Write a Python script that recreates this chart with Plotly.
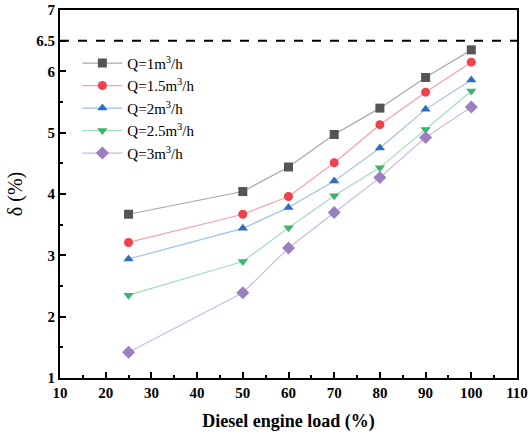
import plotly.graph_objects as go

load = [25, 50, 60, 70, 80, 90, 100]
series_names = ["Q=1m<sup>3</sup>/h", "Q=1.5m<sup>3</sup>/h", "Q=2m<sup>3</sup>/h",
                "Q=2.5m<sup>3</sup>/h", "Q=3m<sup>3</sup>/h"]
q1 = [3.67, 4.04, 4.44, 4.97, 5.40, 5.90, 6.35]
q15 = [3.21, 3.67, 3.96, 4.51, 5.13, 5.66, 6.15]
q2 = [2.94, 3.44, 3.78, 4.21, 4.75, 5.38, 5.86]
q25 = [2.35, 2.90, 3.45, 3.97, 4.43, 5.05, 5.68]
q3 = [1.42, 2.39, 3.12, 3.70, 4.27, 4.92, 5.42]
threshold = 6.5
y_ticks = [1, 2, 3, 4, 5, 6, 6.5, 7]
y_minor = [1.5, 2.5, 3.5, 4.5, 5.5]

styles = [
    ("square", "#555555", "#a8a8a8"),
    ("circle", "#f0414d", "#f7a0a6"),
    ("triangle-up", "#2a6fc4", "#9ec0e6"),
    ("triangle-down", "#3db46d", "#a6dcbc"),
    ("diamond", "#9b7fc0", "#cbbce0"),
]

fig = go.Figure()
for name, ys, (sym, mc, lc) in zip(series_names, [q1, q15, q2, q25, q3], styles):
    fig.add_trace(go.Scatter(
        x=load, y=ys, name=name, mode="lines+markers",
        line=dict(color=lc, width=1.2),
        marker=dict(symbol=sym, color=mc, size=9 if sym != "diamond" else 10),
    ))

fig.add_hline(y=threshold, line=dict(color="black", width=2, dash="dash"))

serif = "Liberation Serif, Times New Roman, serif"
fig.update_layout(
    width=530, height=441,
    margin=dict(l=60, r=13, t=10, b=63, autoexpand=False),
    paper_bgcolor="white", plot_bgcolor="white",
    font=dict(family=serif, color="black"),
    showlegend=True,
    legend=dict(x=0.038, y=0.9, xanchor="left", yanchor="top",
                font=dict(size=15, family=serif), bgcolor="rgba(0,0,0,0)",
                tracegroupgap=0, itemwidth=40),
)
fig.update_xaxes(
    range=[10, 110], dtick=10, tick0=10, automargin=False,
    ticks="inside", ticklen=6, tickwidth=1.5, tickcolor="black",
    showline=True, linewidth=2, linecolor="black", mirror=True,
    showgrid=False, zeroline=False,
    tickfont=dict(size=15, family=serif, weight="bold"),
    minor=dict(ticks="inside", ticklen=3, dtick=5, tick0=10, tickcolor="black", tickwidth=1.5),
    title=dict(text="<b>Diesel engine load (%)</b>", font=dict(size=18, family=serif), standoff=14),
)
fig.update_yaxes(
    range=[1, 7], tickmode="array", tickvals=y_ticks, automargin=False,
    ticktext=[str(v) for v in y_ticks],
    ticks="inside", ticklen=6, tickwidth=1.5, tickcolor="black",
    showline=True, linewidth=2, linecolor="black", mirror=True,
    showgrid=False, zeroline=False,
    tickfont=dict(size=15, family=serif, weight="bold"),
    minor=dict(ticks="inside", ticklen=3, tickvals=y_minor, tickcolor="black", tickwidth=1.5),
    title=dict(text="δ (%)", font=dict(size=20, family=serif), standoff=8),
)
fig.write_html("out.html")
